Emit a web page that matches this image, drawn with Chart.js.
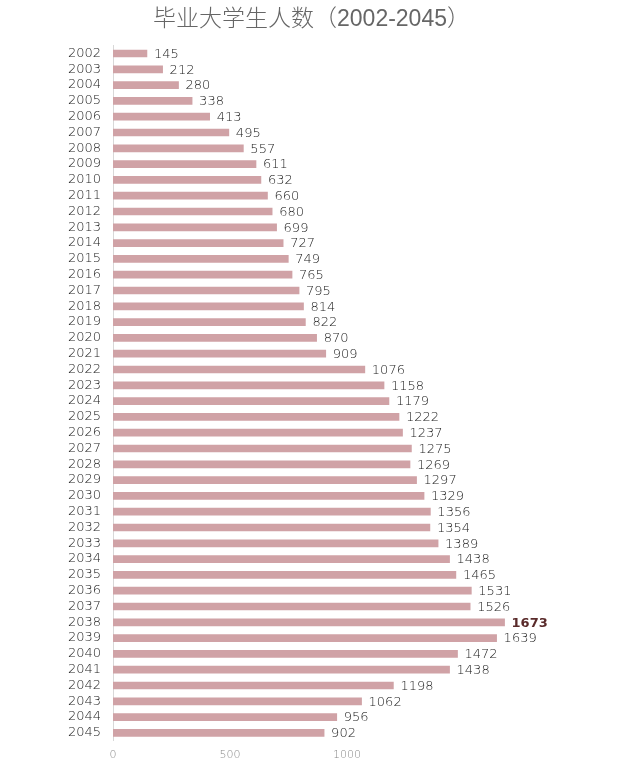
<!DOCTYPE html>
<html>
<head>
<meta charset="utf-8">
<script src="https://cdn.jsdelivr.net/npm/chart.js@4.4.0/dist/chart.umd.min.js"></script>
<style>
  html, body { margin: 0; padding: 0; background: #fff; }
  #wrap { width: 623px; height: 778px; }
</style>
</head>
<body>
<div id="wrap"><canvas id="gradChart" width="623" height="778"></canvas></div>
<script>
// data (万人)
const years = ['2002','2003','2004','2005','2006','2007','2008','2009','2010','2011',
  '2012','2013','2014','2015','2016','2017','2018','2019','2020','2021',
  '2022','2023','2024','2025','2026','2027','2028','2029','2030','2031',
  '2032','2033','2034','2035','2036','2037','2038','2039','2040','2041',
  '2042','2043','2044','2045'];
const graduates = [145, 212, 280, 338, 413, 495, 557, 611, 632, 660,
  680, 699, 727, 749, 765, 795, 814, 822, 870, 909,
  1076, 1158, 1179, 1222, 1237, 1275, 1269, 1297, 1329, 1356,
  1354, 1389, 1438, 1465, 1531, 1526, 1673, 1639, 1472, 1438,
  1198, 1062, 956, 902];
const xTicks = [0, 500, 1000];
const peakYear = '2038';

const numFont = '"DejaVu Sans", sans-serif';

// value labels at the end of each bar
const valueLabels = {
  id: 'valueLabels',
  afterDatasetsDraw(chart) {
    const ctx = chart.ctx;
    const meta = chart.getDatasetMeta(0);
    ctx.save();
    ctx.textBaseline = 'middle';
    ctx.textAlign = 'left';
    meta.data.forEach((bar, i) => {
      const peak = years[i] === peakYear;
      ctx.font = (peak ? 'bold ' : '200 ') + '13px ' + numFont;
      ctx.fillStyle = peak ? '#5a2b2b' : '#222';
      ctx.fillText(String(graduates[i]), bar.x + 7, bar.y + 1);
    });
    ctx.restore();
  }
};

const ctx = document.getElementById('gradChart').getContext('2d');
const chart = new Chart(ctx, {
  type: 'bar',
  data: {
    labels: years,
    datasets: [{
      data: graduates,
      backgroundColor: '#d0a2a6',
      barThickness: 7
    }]
  },
  options: {
    indexAxis: 'y',
    responsive: false,
    animation: false,
    layout: { padding: { top: 0, right: 0, bottom: 8, left: 0 } },
    plugins: {
      legend: { display: false },
      tooltip: { enabled: false },
      title: {
        display: true,
        text: '毕业大学生人数（2002-2045）',
        color: '#666',
        font: { family: '"Liberation Sans", "Noto Sans CJK SC", sans-serif', size: 23, weight: '300' },
        padding: { top: 6, bottom: 12 }
      }
    },
    scales: {
      x: {
        min: 0,
        max: 2179,
        grid: { display: false, drawTicks: false },
        border: { display: false },
        afterBuildTicks: (scale) => { scale.ticks = xTicks.map(v => ({ value: v })); },
        ticks: {
          padding: 8,
          color: '#888',
          font: { family: numFont, size: 11, weight: '200' },
          callback: (v) => String(v)
        }
      },
      y: {
        grid: { display: false, drawTicks: false },
        border: { display: true, color: '#d8d8d8', width: 1 },
        afterFit: (scale) => { scale.width = 113; },
        ticks: {
          autoSkip: false,
          padding: 12,
          color: '#222',
          font: { family: numFont, size: 13, weight: '200' }
        }
      }
    }
  },
  plugins: [valueLabels]
});
</script>
</body>
</html>
